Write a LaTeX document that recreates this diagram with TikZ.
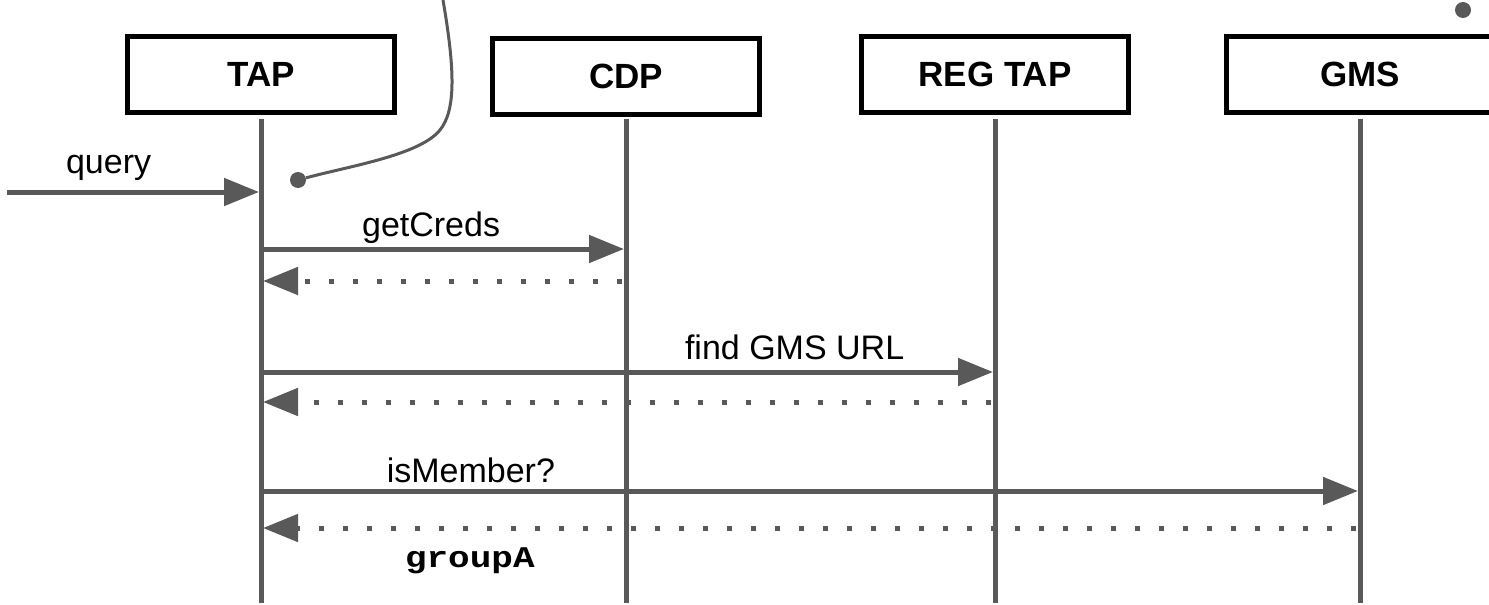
\documentclass[tikz,border=0pt]{standalone}
\usepackage{fontspec}
\setmainfont{Liberation Sans}
\newfontfamily\codefont[FakeStretch=1.2]{Liberation Mono}
\usetikzlibrary{arrows.meta}
\definecolor{linegrey}{HTML}{595959}
\tikzset{
  life/.style={draw=linegrey, line width=5pt},
  msg/.style={draw=linegrey, line width=5pt, shorten >=2pt,
              -{Triangle[length=35pt,width=27pt]}},
  reply/.style={msg, dash pattern=on 5pt off 19pt, dash phase=20pt},
  lbl/.style={font=\fontsize{34}{40}\selectfont, anchor=base, inner sep=0pt},
  dotmark/.style={circle, fill=linegrey, inner sep=0pt, minimum size=16pt}
}
\begin{document}
\begin{tikzpicture}[x=1pt,y=-1pt]
    \useasboundingbox (0,0) rectangle (1489,605);
    \begin{scope}[every node/.style={draw=black, line width=5pt, inner sep=0pt,
                    minimum width=267pt, minimum height=76pt,
                    font=\fontsize{35}{40}\selectfont\bfseries}]
        \node (tap) at (261,74) {TAP};
        \node (cdp) at (626,76) {CDP};
        \node (reg) at (995,74) {REG TAP};
        \node (gms) at (1360,74) {GMS};
    \end{scope}

    \foreach \n/\x in {tap/261, cdp/626, reg/995, gms/1360} {
        \coordinate (\n-top) at (\x,119);
        \coordinate (\n-bot) at (\x,603);
        \foreach \r/\y in {1/192, 2/249, 3/281, 4/372, 5/402, 6/491, 7/528}
            \coordinate (\n-\r) at (\x,\y);
    }
    \foreach \n in {tap,cdp,reg,gms}
        \path (\n-top) edge[life] (\n-bot);

    \coordinate (src) at (7,192);
    \path (src) edge[msg] node[lbl, pos=.4, yshift=19pt] {query} (tap-1);
    \path (tap-2) edge[msg] node[lbl, pos=.466, yshift=13pt] {getCreds} (cdp-2);
    \path (cdp-3) edge[reply] (tap-3);
    \path (tap-4) edge[msg] node[lbl, pos=.727, yshift=13pt] {find GMS URL} (reg-4);
    \path (reg-5) edge[reply] (tap-5);
    \path (tap-6) edge[msg] node[lbl, pos=.191, yshift=9pt] {isMember?} (gms-6);
    \path (gms-7) edge[reply] node[lbl, pos=.81, yshift=-39pt,
        font=\codefont\bfseries\fontsize{30}{34}\selectfont] {groupA} (tap-7);

    % note pointer
    \coordinate (lead) at (443,0);
    \node[dotmark] (pin) at (298,180) {};
    \node[dotmark] (corner) at (1463,10) {};
    \draw[linegrey, line width=3pt] (lead) .. controls (455,70) and (456,110) .. (440,130)
        .. controls (420,155) and (350,166) .. (pin);
\end{tikzpicture}
\end{document}
